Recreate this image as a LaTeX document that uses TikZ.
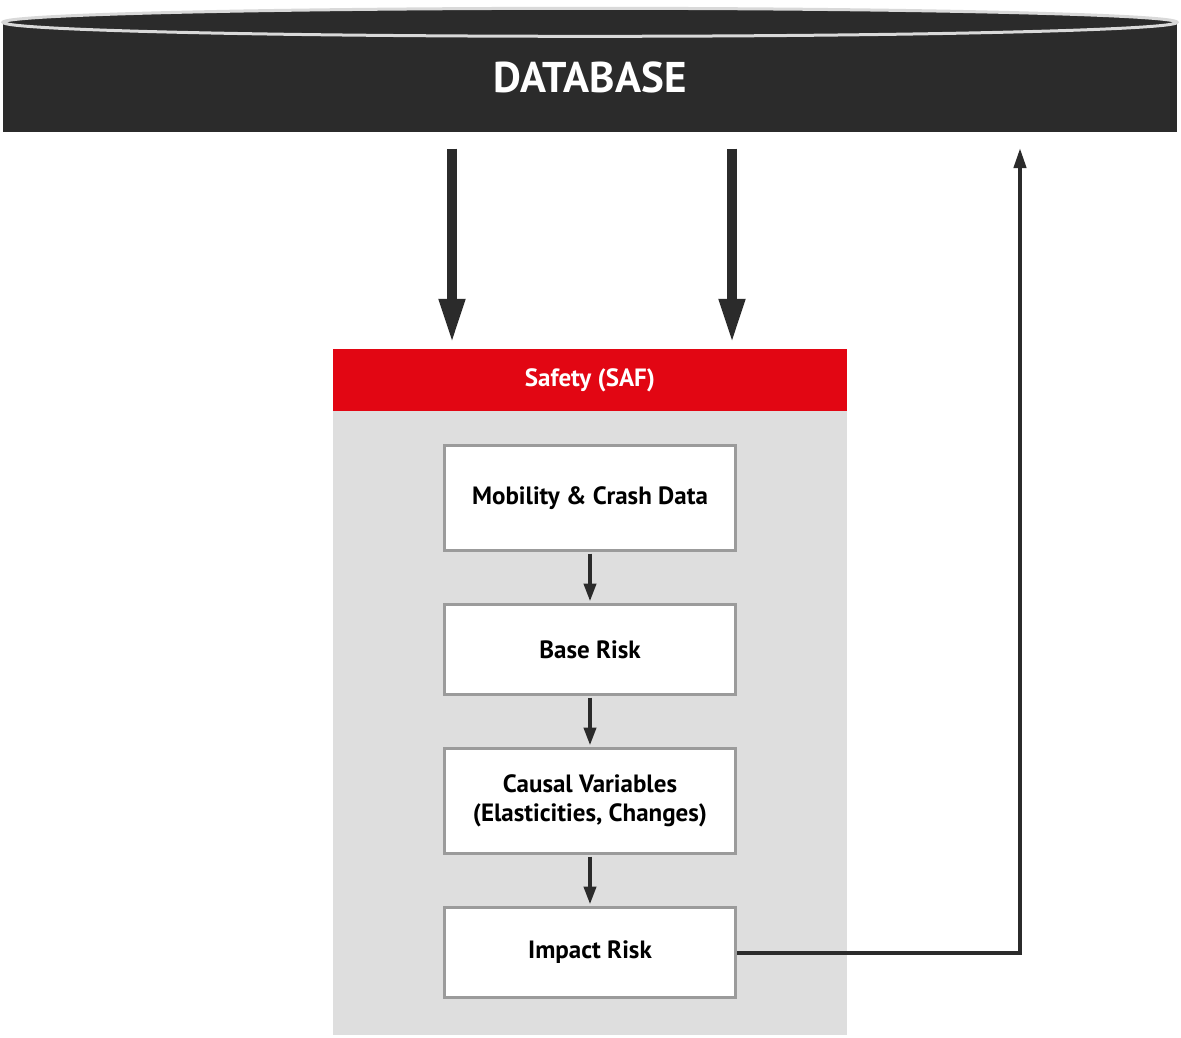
\documentclass[tikz,border=0pt]{standalone}
\usepackage{fontspec}
\setmainfont{PT Sans}
\usetikzlibrary{arrows.meta,positioning}

\definecolor{dbdark}{HTML}{2B2B2B}
\definecolor{safred}{HTML}{E20613}
\definecolor{panelgray}{HTML}{DEDEDE}
\definecolor{boxgray}{HTML}{9B9B9B}

\tikzset{
  stagebox/.style={draw=boxgray,line width=3pt,fill=white,minimum width=291pt,
    align=center,font=\fontsize{25}{29}\selectfont\bfseries},
  bigarrow/.style={draw=dbdark,line width=10pt,-{Triangle[width=24pt,length=45pt]}},
  smallarrow/.style={draw=dbdark,line width=4pt,-{Triangle[width=12pt,length=18pt]}},
}

\begin{document}
\begin{tikzpicture}[x=1pt,y=-1pt]
\useasboundingbox[fill=white] (0,0) rectangle (1181,1037);

% database
\node[fill=dbdark,minimum width=1174pt,minimum height=109pt,inner sep=0pt,
  text=white,font=\fontsize{43}{50}\selectfont\bfseries] (db) at (590,77) {DATABASE};
\draw[draw=black!15,line width=3pt,fill=dbdark] (db.north) ellipse [x radius=587pt,y radius=14pt];

% safety block
\node[fill=safred,minimum width=514pt,minimum height=62pt,inner sep=0pt,
  text=white,font=\fontsize{25}{29}\selectfont\bfseries] (saf) at (590,380) {Safety (SAF)};
\node[fill=panelgray,minimum width=514pt,minimum height=624pt,inner sep=0pt,
  below=0pt of saf] (panel) {};

\node[stagebox,minimum height=105pt] (mob) at (590,498) {Mobility \& Crash Data};
\node[stagebox,minimum height=90pt] (base) at (590,649.5) {Base Risk};
\node[stagebox,minimum height=105pt] (causal) at (590,801) {Causal Variables\\(Elasticities, Changes)};
\node[stagebox,minimum height=90pt] (impact) at (590,952.5) {Impact Risk};

% flows
\coordinate (in1) at (452,0);
\coordinate (in2) at (732,0);
\coordinate (back) at (1020,148);
\draw[bigarrow,shorten <=17pt,shorten >=5pt] (db.south -| in1) -- (saf.north -| in1);
\draw[bigarrow,shorten <=17pt,shorten >=5pt] (db.south -| in2) -- (saf.north -| in2);

\draw[smallarrow,shorten <=1.5pt,shorten >=1.5pt] (mob) -- (base);
\draw[smallarrow,shorten <=1.5pt,shorten >=1.5pt] (base) -- (causal);
\draw[smallarrow,shorten <=1.5pt,shorten >=1.5pt] (causal) -- (impact);

\draw[smallarrow,-{Triangle[width=12pt,length=20pt]}] (impact.east) -| (back);
\end{tikzpicture}
\end{document}
